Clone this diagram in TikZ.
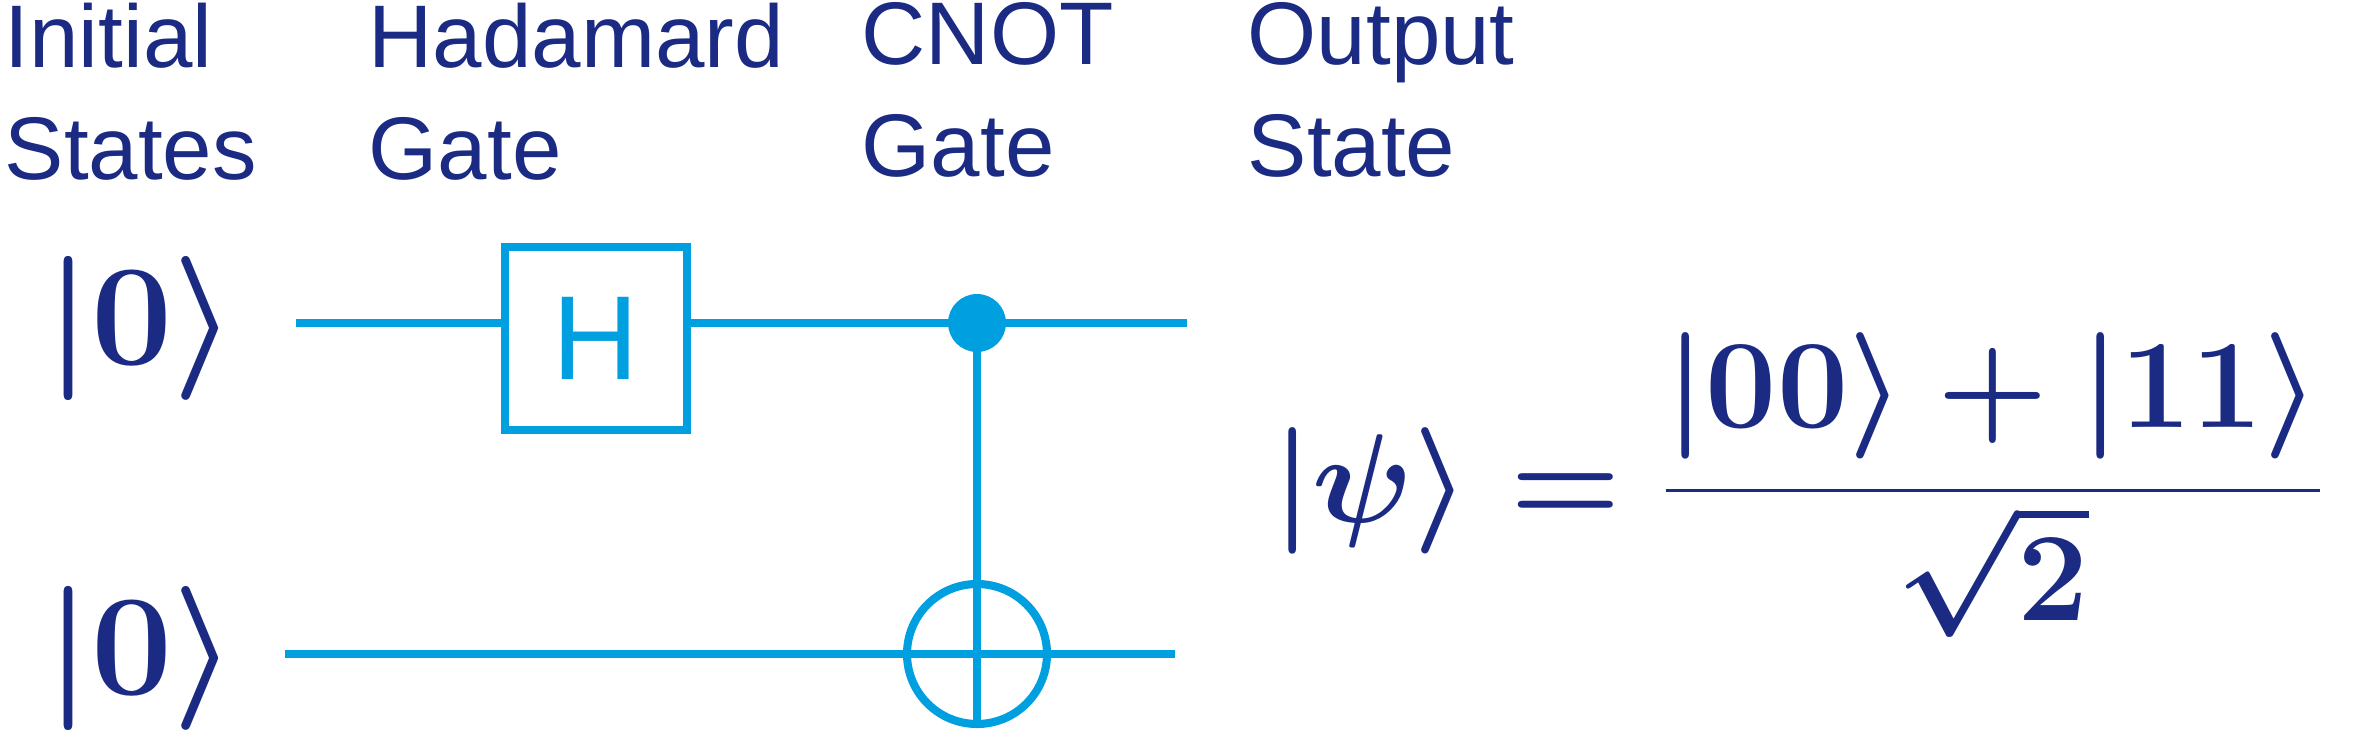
\RequirePackage{fix-cm}
\documentclass[tikz,border=0pt]{standalone}
\usepackage{fontspec}
\setmainfont{Liberation Sans}
\usepackage{amsmath}
\usetikzlibrary{positioning}
\definecolor{navy}{HTML}{1B2A82}
\definecolor{qblue}{HTML}{009FDF}
\tikzset{wire/.style={qblue, line width=2.3pt},
         head/.style={navy, anchor=north west, inner sep=0pt, align=left, font=\fontsize{25.3}{31.9}\selectfont},
         ket/.style={navy, inner sep=0pt, font=\fontsize{41}{48}\selectfont\boldmath},
         gate/.style={draw=qblue, line width=2.3pt, minimum width=1.82cm, minimum height=1.83cm, qblue, font=\fontsize{34}{40}\selectfont}}
\begin{document}
\begin{tikzpicture}
                    \useasboundingbox (0,0) rectangle (23.66,-7.33);
                    % column titles
                    \node[head] (tinit) at (0.04,-0.02) {Initial\\States};
                    \node[head] (thad) at (3.68,-0.02) {Hadamard\\Gate};
                    \node[head] (tcnot) at (8.61,-0.02) {CNOT\\Gate};
                    \node[head] (tout) at (12.47,-0.02) {Output\\State};

                    \node[ket] (q1) at (1.41,-3.28) {$|0\rangle$};
                    \node[ket] (q2) at (1.41,-6.58) {$|0\rangle$};

                    \coordinate (in1) at (2.96,-3.23);
                    \coordinate (out1) at (11.87,-3.23);
                    \coordinate (in2) at (2.85,-6.54);
                    \coordinate (out2) at (11.75,-6.54);

                    \node[gate] (had) at (5.96,-3.385) {H};
                    \node[circle, draw=qblue, line width=2.3pt, inner sep=0pt, minimum size=1.4cm] (targ) at (9.77,-6.54) {};

                    \draw[wire] (in1) -- (in1 -| had.west);
                    \draw[wire] (in1 -| had.east) -- (out1);
                    \draw[wire] (in2) -- (out2);
                    \node[circle, fill=qblue, inner sep=0pt, minimum size=0.58cm] (ctrl) at (9.77,-3.23) {};
                    \draw[wire] (ctrl.center) -- (targ.south);

                    \node[ket, font=\fontsize{36}{42}\selectfont\boldmath] (psi) at (17.98,-4.85) {$\displaystyle |\psi\rangle = \frac{|00\rangle + |11\rangle}{\sqrt{2}}$};
                \end{tikzpicture}
\end{document}
